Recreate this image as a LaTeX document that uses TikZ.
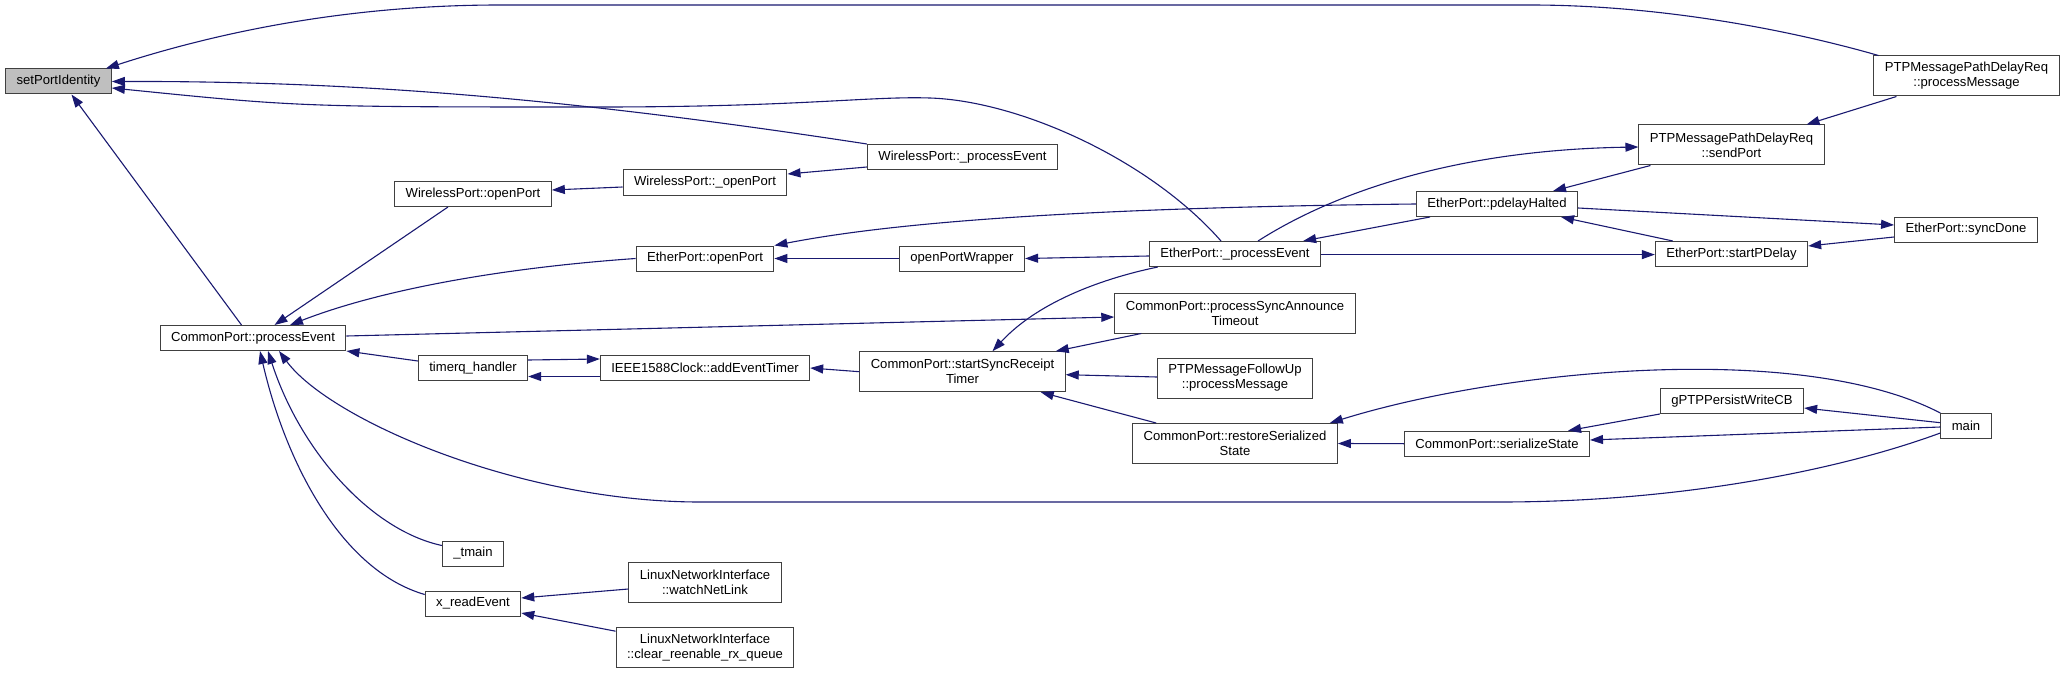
\documentclass[tikz,border=0pt]{standalone}
\usepackage{fontspec}
\setmainfont{Liberation Sans}
\usepackage{tikz}
\usetikzlibrary{arrows.meta}

\definecolor{edgeblue}{HTML}{191970}

\tikzset{
    fn/.style={rectangle, draw=black!75, line width=1pt, fill=white, inner xsep=11pt, inner ysep=2pt,
        minimum height=25pt, align=center, font=\fontsize{13.1pt}{15pt}\selectfont},
    fntwo/.style={fn, minimum height=40pt},
    call/.style={draw=edgeblue, line width=1.1pt, >={Triangle[length=13pt,width=9pt]}, <-},
}

\begin{document}
\begin{tikzpicture}[x=1pt, y=-1pt]
    \useasboundingbox (0, 0) rectangle (2065, 674);

    \node[fn, fill=black!25] (setPortIdentity) at (58.5, 81.5) {setPortIdentity};
    \node[fn] (procEvent) at (253, 338) {CommonPort::processEvent};

    \node[fn] (wlOpenPort) at (473, 194) {WirelessPort::openPort};
    \node[fn] (timerqHandler) at (473, 368) {timerq\_handler};
    \node[fn] (tmain) at (473, 553.5) {\_tmain};
    \node[fn] (xReadEvent) at (473, 603.5) {x\_readEvent};

    \node[fn] (wlOpenPortInt) at (705, 182.5) {WirelessPort::\_openPort};
    \node[fn] (etOpenPort) at (705, 258.5) {EtherPort::openPort};
    \node[fn] (addEventTimer) at (705, 368) {IEEE1588Clock::addEventTimer};
    \node[fntwo] (watchNetLink) at (705, 582) {LinuxNetworkInterface\\::watchNetLink};
    \node[fntwo] (clearRx) at (705, 647.7) {LinuxNetworkInterface\\::clear\_reenable\_rx\_queue};

    \node[fn] (wlProcEvent) at (962.5, 157) {WirelessPort::\_processEvent};
    \node[fn] (openPortWrapper) at (962, 258.5) {openPortWrapper};
    \node[fntwo] (startSyncTimer) at (962.5, 371.7) {CommonPort::startSyncReceipt\\Timer};

    \node[fn] (etProcEvent) at (1235, 254) {EtherPort::\_processEvent};
    \node[fntwo] (syncAnnTimeout) at (1235, 313) {CommonPort::processSyncAnnounce\\Timeout};
    \node[fntwo] (followUp) at (1235, 378) {PTPMessageFollowUp\\::processMessage};
    \node[fntwo] (restoreState) at (1235, 443.5) {CommonPort::restoreSerialized\\State};

    \node[fn] (pdelayHalted) at (1497, 204) {EtherPort::pdelayHalted};
    \node[fn] (serializeState) at (1497, 443.7) {CommonPort::serializeState};

    \node[fntwo] (sendPort) at (1731.5, 145) {PTPMessagePathDelayReq\\::sendPort};
    \node[fn] (startPDelay) at (1731.5, 254) {EtherPort::startPDelay};
    \node[fn] (persistWriteCB) at (1732, 401) {gPTPPersistWriteCB};

    \node[fntwo] (pdrProcMsg) at (1966.5, 76) {PTPMessagePathDelayReq\\::processMessage};
    \node[fn] (syncDone) at (1966, 229.5) {EtherPort::syncDone};
    \node[fn] (main) at (1966, 426) {main};

    \draw[call] ([xshift=-6pt]setPortIdentity.north east) .. controls (240, 25) and (370, 5) .. (500, 5) -- (1530, 5)
        .. controls (1660, 5) and (1790, 30) .. ([xshift=5pt]pdrProcMsg.north west);
    \draw[call] (setPortIdentity.east) .. controls (350, 81) and (560, 97) .. (wlProcEvent.north west);
    \draw[call] ([yshift=-6.5pt]setPortIdentity.east) .. controls (300, 107) .. (600, 107)
        .. controls (800, 107) and (870, 96) .. (930, 98)
        .. controls (1020, 101) and (1150, 160) .. ([xshift=-14pt]etProcEvent.north);
    \draw[call] ([xshift=13pt]setPortIdentity.south) -- ([xshift=-11.5pt]procEvent.north);

    \draw[call] ([xshift=21.5pt]procEvent.north) -- ([xshift=-25pt]wlOpenPort.south);
    \draw[call] ([xshift=37pt]procEvent.north) .. controls (380, 290) and (500, 268) .. (etOpenPort.west);
    \draw[call] ([yshift=-4pt]syncAnnTimeout.west) -- ([yshift=2pt]procEvent.east);
    \draw[call] (procEvent.south east) -- ([yshift=7pt]timerqHandler.west);
    \draw[call] ([xshift=15pt]procEvent.south) .. controls (300, 450) and (370, 530) .. ([yshift=8pt]tmain.west);
    \draw[call] ([xshift=7pt]procEvent.south) .. controls (285, 460) and (340, 570) .. ([yshift=-4pt]xReadEvent.north west);
    \draw[call] ([xshift=26pt]procEvent.south) .. controls (330, 420) and (520, 502) .. (700, 502) -- (1500, 502)
        .. controls (1680, 502) and (1840, 470) .. ([yshift=-7pt]main.west);

    \draw[call] ([yshift=9pt]addEventTimer.west) -- ([yshift=8pt]timerqHandler.east);
    \draw[call] ([yshift=-8.5pt]timerqHandler.east) -- ([yshift=-8.5pt]addEventTimer.west);
    \draw[call] (addEventTimer.east) -- (startSyncTimer.west);

    \draw[call] ([yshift=5.5pt]xReadEvent.east) -- ([yshift=-7pt]watchNetLink.west);
    \draw[call] ([yshift=-9.5pt]xReadEvent.east) -- ([yshift=-4pt]clearRx.north west);

    \draw[call] ([yshift=4pt]wlOpenPort.east) -- ([yshift=-4.5pt]wlOpenPortInt.west);
    \draw[call] ([yshift=8.5pt]wlOpenPortInt.east) -- ([yshift=-10pt]wlProcEvent.west);
    \draw[call] (etOpenPort.east) -- (openPortWrapper.west);
    \draw[call] (etOpenPort.north east) .. controls (880, 225) and (1050, 208) .. (pdelayHalted.west);
    \draw[call] (openPortWrapper.east) -- ([yshift=-2pt]etProcEvent.west);

    \draw[call] ([xshift=-18pt]etProcEvent.north east) -- ([xshift=14pt]pdelayHalted.south west);
    \draw[call] ([yshift=-2pt]sendPort.west) .. controls (1450, 150) and (1330, 195) .. ([xshift=23pt]etProcEvent.north);
    \draw[call] ([yshift=-0.6pt]startPDelay.west) -- ([yshift=-0.6pt]etProcEvent.east);
    \draw[call] ([xshift=30pt]startSyncTimer.north) .. controls (1035, 305) and (1095, 280) .. ([xshift=9pt]etProcEvent.south west);

    \draw[call] ([xshift=-10pt]startSyncTimer.north east) -- ([xshift=27pt]syncAnnTimeout.south west);
    \draw[call] ([yshift=-3pt]startSyncTimer.east) -- ([yshift=1pt]followUp.west);
    \draw[call] ([xshift=-25pt]startSyncTimer.south east) -- ([xshift=24pt]restoreState.north west);

    \draw[call] ([xshift=-25pt]pdelayHalted.north east) -- ([xshift=12pt]sendPort.south west);
    \draw[call] ([xshift=-17pt]pdelayHalted.south east) -- ([xshift=18pt]startPDelay.north west);
    \draw[call] ([yshift=4.5pt]syncDone.west) -- ([yshift=-4pt]pdelayHalted.east);
    \draw[call] ([yshift=8pt]startPDelay.east) -- ([yshift=-7.5pt]syncDone.west);
    \draw[call] ([xshift=-18pt]sendPort.north east) -- ([xshift=23pt]pdrProcMsg.south west);

    \draw[call] (restoreState.east) -- (serializeState.west);
    \draw[call] ([xshift=-8pt]restoreState.north east) .. controls (1500, 370) and (1800, 340) .. (main.north west);
    \draw[call] ([xshift=-22pt]serializeState.north east) -- (persistWriteCB.south west);
    \draw[call] ([yshift=3.7pt]serializeState.east) -- ([yshift=-1pt]main.west);
    \draw[call] ([yshift=-7pt]persistWriteCB.east) -- ([yshift=3.3pt]main.west);
\end{tikzpicture}
\end{document}
